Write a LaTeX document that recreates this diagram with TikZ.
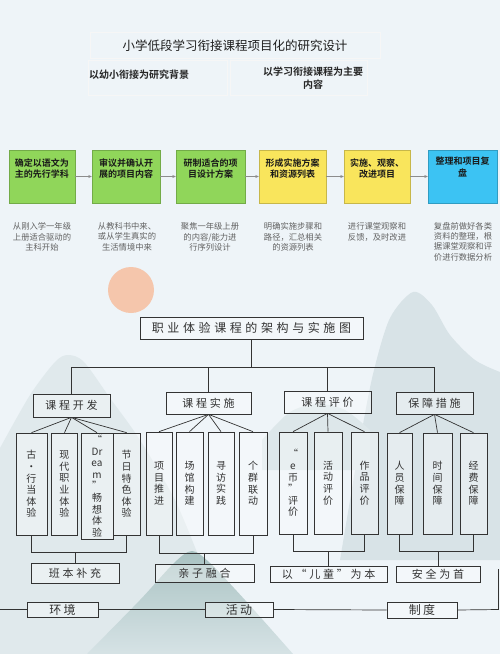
\documentclass[tikz,border=0pt]{standalone}
\usepackage{fontspec}
\setmainfont{Noto Sans CJK SC}[BoldFont={Noto Sans CJK SC Bold}]
\usetikzlibrary{arrows.meta}
\definecolor{bg}{HTML}{EEF4F8}
\definecolor{gbox}{HTML}{90D65A}
\definecolor{ybox}{HTML}{F9E55C}
\definecolor{bbox}{HTML}{3CC3F3}
\definecolor{sun}{HTML}{F5C6AC}
\definecolor{mtA}{HTML}{DDE7EA}
\definecolor{mtB}{HTML}{D3DFE3}
\definecolor{mtD}{HTML}{A9C2C2}
\definecolor{ink}{HTML}{333333}
\newcommand{\myls}[2][25]{{\addfontfeature{LetterSpace=#1}#2}}
\tikzset{
  cbox/.style={fill=#1, draw=#1!80!black, line width=0.4pt, minimum height=53pt, inner sep=0pt},
  ctext/.style={font=\bfseries\fontsize{9}{11.5}\selectfont, align=center, text=black!90, inner sep=0pt},
  desc/.style={font=\fontsize{8.3}{10.3}\selectfont, align=center, text=black!62, inner sep=0pt, anchor=north},
  flow/.style={-{Stealth[length=3.5pt,width=3pt]}, draw=black!45, line width=0.45pt},
  faint/.style={draw=black!3.5, line width=0.5pt, inner sep=0pt},
  obox/.style={draw=ink, line width=0.7pt, inner sep=0pt, fill=white, fill opacity=0.35, text opacity=1, text=ink},
  vtext/.style={font=\fontsize{10}{11.6}\selectfont, align=center},
  htext/.style={font=\fontsize{11}{13}\selectfont},
  wire/.style={draw=ink, line width=0.7pt},
}
\begin{document}
\begin{tikzpicture}[x=1pt,y=-1pt]
\useasboundingbox (0,0) rectangle (500,654);
\fill[bg] (0,0) rectangle (500,654);
% ---------- background scenery ----------
\fill[mtA, opacity=0.8] plot[smooth] coordinates {(0,448) (30,395) (55,362) (68,355) (84,362) (110,398) (140,440) (175,500) (200,560)} -- (200,654) -- (0,654) -- cycle;
\fill[mtB, opacity=0.8] plot[smooth] coordinates {(340,560) (362,430) (374,370) (390,318) (413,292) (432,305) (450,335) (475,360) (500,372)} -- (500,560) -- cycle;
\fill[mtA] plot[smooth] coordinates {(262,440) (290,412) (318,404) (345,410) (370,430)} -- (370,470) -- (262,470) -- cycle;
\fill[sun] (131,290) circle[radius=23pt];
\shade[top color=mtD, bottom color=mtD!35!bg] plot[smooth] coordinates {(87,654) (140,600) (174,563) (192,551) (210,563) (245,600) (293,654)} -- cycle;
% ---------- top part ----------
\node[faint, minimum width=290pt, minimum height=26pt] (ftitle) at (235,45) {};
\node[faint, minimum width=139pt, minimum height=35pt] (fsubl) at (157.5,77.5) {};
\node[faint, minimum width=137pt, minimum height=35pt] (fsubr) at (298.5,77.5) {};
\node[font=\fontsize{12.5}{14}\selectfont, text=black!88] (title) at (235,46) {小学低段学习衔接课程项目化的研究设计};
\node[font=\bfseries\fontsize{10}{13}\selectfont, text=black!85] (subl) at (139,75) {以幼小衔接为研究背景};
\node[font=\bfseries\fontsize{10}{13}\selectfont, text=black!85, align=center] (subr) at (313,78.5) {以学习衔接课程为主要\\内容};
% colored steps
\node[cbox=gbox, minimum width=66pt] (b1) at (42,176.5) {};
\node[cbox=gbox, minimum width=68pt] (b2) at (126,176.5) {};
\node[cbox=gbox, minimum width=69pt] (b3) at (210.5,176.5) {};
\node[cbox=ybox, minimum width=67pt] (b4) at (292.5,176.5) {};
\node[cbox=ybox, minimum width=66pt] (b5) at (377,176.5) {};
\node[cbox=bbox, minimum width=69pt] (b6) at (462.5,176.5) {};
\node[ctext] (t1) at (42,168.5) {确定以语文为\\主的先行学科};
\node[ctext] (t2) at (126,168.5) {审议并确认开\\展的项目内容};
\node[ctext] (t3) at (210.5,168.5) {研制适合的项\\目设计方案};
\node[ctext] (t4) at (292.5,168.5) {形成实施方案\\和资源列表};
\node[ctext] (t5) at (377,168.5) {实施、观察、\\改进项目};
\node[ctext] (t6) at (462.5,167) {整理和项目复\\盘};
\draw[flow] (b1) -- (b2);
\draw[flow] (b2) -- (b3);
\draw[flow] (b3) -- (b4);
\draw[flow] (b4) -- (b5);
\draw[flow] (b5) -- (b6);
\node[desc] (d1) at (42,222.5) {从刚入学一年级\\上册适合驱动的\\主科开始};
\node[desc] (d2) at (127,222.5) {从教科书中来、\\或从学生真实的\\生活情境中来};
\node[desc] (d3) at (210,222.5) {聚焦一年级上册\\的内容/能力进\\行序列设计};
\node[desc] (d4) at (293,222.5) {明确实施步骤和\\路径，汇总相关\\的资源列表};
\node[desc] (d5) at (377,222.5) {进行课堂观察和\\反馈，及时改进};
\node[desc] (d6) at (463,222) {复盘前做好各类\\资料的整理，根\\据课堂观察和评\\价进行数据分析};
% ---------- lower diagram ----------
\node[obox, minimum width=223pt, minimum height=22pt, font=\fontsize{12}{14}\selectfont] (main) at (251.5,328) {\myls[30]{职业体验课程的架构与实施图}};
\coordinate (hub) at (251.5,367);
\node[obox, minimum width=77pt, minimum height=23pt, htext] (L1) at (71.5,405.5) {\myls{课程开发}};
\node[obox, minimum width=85pt, minimum height=22pt, htext] (L2) at (208.5,403) {\myls{课程实施}};
\node[obox, minimum width=87pt, minimum height=22pt, htext] (L3) at (327.5,402) {\myls{课程评价}};
\node[obox, minimum width=77pt, minimum height=22pt, htext] (L4) at (434.5,403) {\myls{保障措施}};
\draw[wire] (main.south) -- (hub);
\draw[wire] (L1.north) |- (L4.north |- hub) -- (L4.north);
\draw[wire] (L2.north) -- (L2.north |- hub);
\draw[wire] (L3.north) -- (L3.north |- hub);
% level 3
\node[obox, minimum width=31pt, minimum height=102pt, vtext] (a1) at (31.5,484) {古\\·\\行\\当\\体\\验};
\node[obox, minimum width=25.5pt, minimum height=102pt, vtext] (a2) at (64.5,484) {现\\代\\职\\业\\体\\验};
\node[obox, minimum width=32pt, minimum height=106pt, vtext] (a3) at (97,486) {“\\Dr\\ea\\m\\”\\畅\\想\\体\\验};
\node[obox, minimum width=26.7pt, minimum height=102pt, vtext] (a4) at (126.7,484) {节\\日\\特\\色\\体\\验};
\node[obox, minimum width=26pt, minimum height=103pt, vtext] (c1) at (159,483.5) {项\\目\\推\\进};
\node[obox, minimum width=27pt, minimum height=103pt, vtext] (c2) at (189.5,483.5) {场\\馆\\构\\建};
\node[obox, minimum width=26pt, minimum height=103pt, vtext] (c3) at (221,483.5) {寻\\访\\实\\践};
\node[obox, minimum width=28pt, minimum height=103pt, vtext] (c4) at (253,483.5) {个\\群\\联\\动};
\node[obox, minimum width=28pt, minimum height=102pt, vtext] (e1) at (293,483) {“\\e\\币\\”\\评\\价};
\node[obox, minimum width=28pt, minimum height=102pt, vtext] (e2) at (328,483) {活\\动\\评\\价};
\node[obox, minimum width=27pt, minimum height=102pt, vtext] (e3) at (364.5,483) {作\\品\\评\\价};
\node[obox, minimum width=25pt, minimum height=101pt, vtext] (s1) at (399.5,483.5) {人\\员\\保\\障};
\node[obox, minimum width=29pt, minimum height=101pt, vtext] (s2) at (437.5,483.5) {时\\间\\保\\障};
\node[obox, minimum width=27pt, minimum height=101pt, vtext] (s3) at (473.5,483.5) {经\\费\\保\\障};
\foreach \k in {a1,a2,a3,a4} \draw[wire] (L1.south) -- (\k.north);
\foreach \k in {c1,c2,c3,c4} \draw[wire] (L2.south) -- (\k.north);
\foreach \k in {e1,e2,e3} \draw[wire] (L3.south) -- (\k.north);
\foreach \k in {s1,s2,s3} \draw[wire] (L4.south) -- (\k.north);
% bottom groups
\node[obox, minimum width=88pt, minimum height=20pt, htext] (g1) at (75,573) {\myls{班本补充}};
\node[obox, minimum width=99pt, minimum height=18pt, htext] (g2) at (204.5,573) {\myls{亲子融合}};
\node[obox, minimum width=117pt, minimum height=16pt, htext] (g3) at (328.5,574) {\myls{以“儿童”为本}};
\node[obox, minimum width=84pt, minimum height=16pt, htext] (g4) at (438,574) {\myls{安全为首}};
\coordinate (j1) at (0,552);
\coordinate (j2) at (0,553);
\coordinate (j3) at (0,551);
\coordinate (j4) at (0,551);
\draw[wire] (a1.south) |- (a4.south |- j1) -- (a4.south);
\draw[wire] (g1.north) -- (g1.north |- j1);
\draw[wire] (c1.south) |- (c4.south |- j2) -- (c4.south);
\draw[wire] (g2.north) -- (g2.north |- j2);
\draw[wire] (e1.south) |- (e3.south |- j3) -- (e3.south);
\draw[wire] (g3.north) -- (g3.north |- j3);
\draw[wire] (s1.south) |- (s3.south |- j4) -- (s3.south);
\draw[wire] (g4.north) -- (g4.north |- j4);
% base line
\node[obox, minimum width=71pt, minimum height=15pt, font=\fontsize{12}{14}\selectfont] (env) at (62.5,609.5) {\myls[20]{环境}};
\node[obox, minimum width=68pt, minimum height=15pt, font=\fontsize{12}{14}\selectfont] (act) at (239,609.5) {\myls[20]{活动}};
\node[obox, minimum width=70pt, minimum height=16pt, font=\fontsize{12}{14}\selectfont] (sys) at (422,610) {\myls[20]{制度}};
\coordinate (lend) at (0,609.5);
\coordinate (rend) at (498.5,609.5);
\coordinate (rtop) at (498.5,569);
\draw[wire] (lend) -- (env.west);
\draw[wire] (env.east) -- (act.west);
\draw[wire] (act.east) -- (sys.west);
\draw[wire] (sys.east) -- (rend) -- (rtop);
\end{tikzpicture}
\end{document}
